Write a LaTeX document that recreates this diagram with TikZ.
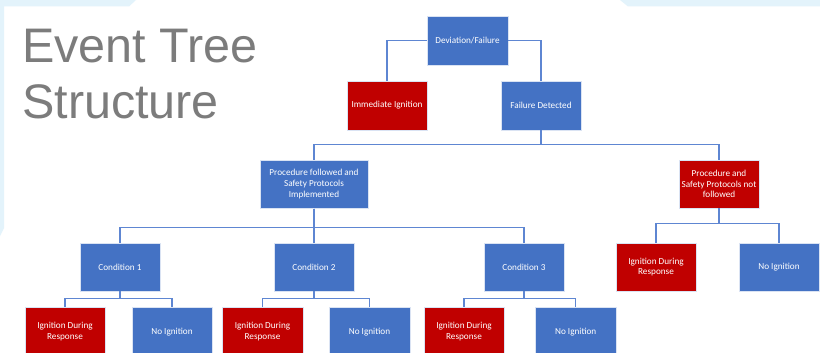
\documentclass[tikz,border=0pt]{standalone}
\usepackage{fontspec}
\setmainfont{Carlito}
\newfontfamily\titlefont{Liberation Sans}
\definecolor{boxblue}{HTML}{4472C4}
\definecolor{boxred}{HTML}{C00000}
\definecolor{linkblue}{HTML}{5E86D2}
\definecolor{edgeblue}{HTML}{E3F3FB}
\definecolor{titlegray}{HTML}{7C7C7C}
\begin{document}
\begin{tikzpicture}[x=1pt,y=-1pt,
  evbox/.style={rectangle, draw=white!80!boxblue, line width=0.4pt,
    minimum width=80.5pt, minimum height=48.5pt, inner sep=1pt,
    text=white, align=center, font=\fontsize{9.2}{10.7}\selectfont},
  okbox/.style={evbox, fill=boxblue},
  firebox/.style={evbox, fill=boxred},
  titletext/.style={anchor=base west, inner sep=0, text=titlegray,
    font=\titlefont\fontsize{48.5}{55}\selectfont},
  link/.style={draw=linkblue, line width=1.1pt}]
\useasboundingbox (0,0) rectangle (820,353);
\clip (0,0) rectangle (820,353);
\fill[white] (0,0) rectangle (820,353);
% slide edge accents
\fill[edgeblue] (0,0) -- (136,0) -- (129,6.5) -- (4,6.5) -- (4,228) -- (0,236) -- cycle;
\fill[edgeblue] (620,0) -- (820,0) -- (820,6.5) -- (628,6.5) -- cycle;
% title
\node[titletext] (title1) at (22,63) {Event Tree};
\node[titletext] (title2) at (22,118) {Structure};
% top levels
\node[okbox, minimum width=81pt, minimum height=49pt] (dev) at (467.5,40.5) {Deviation/Failure};
\node[firebox, minimum width=80pt, minimum height=49pt] (imm) at (387,105.5) {Immediate Ignition};
\node[okbox, minimum width=80.5pt, minimum height=49pt] (fd) at (541,105.5) {Failure Detected};
\node[okbox, minimum width=108pt, minimum height=48.3pt] (pf) at (314,184.2) {Procedure followed and\\Safety Protocols\\Implemented};
\node[firebox, minimum width=80.5pt, minimum height=48pt] (pn) at (719,184) {Procedure and\\Safety Protocols not\\followed};
% conditions
\node[okbox] (c1) at (120,267) {Condition 1};
\node[okbox] (c2) at (314,267) {Condition 2};
\node[okbox] (c3) at (524,267) {Condition 3};
\node[firebox, minimum width=80pt] (pnA) at (656,267) {Ignition During\\Response};
\node[okbox] (pnB) at (779,267) {No Ignition};
% outcomes
\node[firebox] (c1A) at (65,331.7) {Ignition During\\Response};
\node[okbox] (c1B) at (172,331.7) {No Ignition};
\node[firebox] (c2A) at (262.5,331.7) {Ignition During\\Response};
\node[okbox] (c2B) at (369.5,331.7) {No Ignition};
\node[firebox] (c3A) at (464,331.7) {Ignition During\\Response};
\node[okbox] (c3B) at (575.7,331.7) {No Ignition};
% connectors
\draw[link] (dev.west) -| (imm.north);
\draw[link] (dev.east) -| (fd.north);
\draw[link] (fd.south) -- ++(0,14.3) -| (pf.north);
\draw[link] (fd.south) -- ++(0,14.3) -| (pn.north);
\draw[link] (pf.south) -- ++(0,19) -| (c1.north);
\draw[link] (pf.south) -- ++(0,19) -| (c3.north);
\draw[link] (pf.south) -- (c2.north);
\draw[link] (pn.south) -- ++(0,15.3) -| (pnA.north);
\draw[link] (pn.south) -- ++(0,15.3) -| (pnB.north);
\draw[link] (c1.south) -- ++(0,7.3) -| (c1A.north);
\draw[link] (c1.south) -- ++(0,7.3) -| (c1B.north);
\draw[link] (c2.south) -- ++(0,7.3) -| (c2A.north);
\draw[link] (c2.south) -- ++(0,7.3) -| (c2B.north);
\draw[link] (c3.south) -- ++(0,7.3) -| (c3A.north);
\draw[link] (c3.south) -- ++(0,7.3) -| (c3B.north);
\end{tikzpicture}
\end{document}
